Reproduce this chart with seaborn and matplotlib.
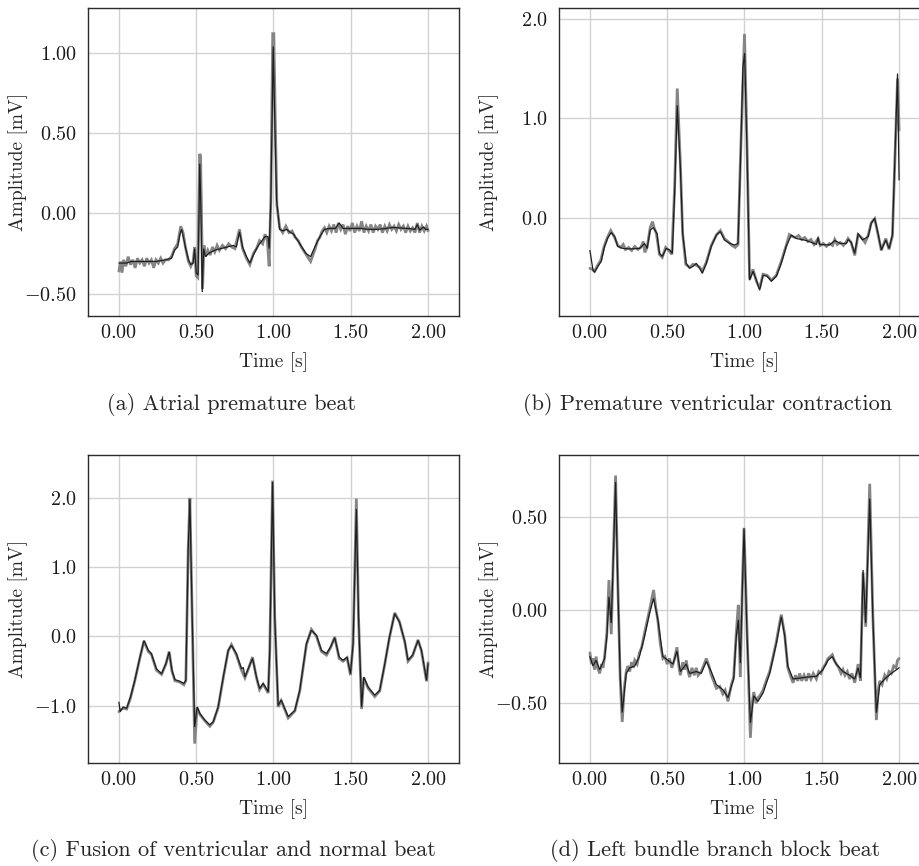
import matplotlib
matplotlib.use("Agg")
import matplotlib.pyplot as plt
from matplotlib.ticker import FixedLocator, FuncFormatter
import seaborn as sns
import pandas as pd

# ---------------------------------------------------------------- data
# (a) Atrial premature beat
a_t_clean = [0.00, 0.02, 0.05, 0.08, 0.12, 0.18, 0.24, 0.30, 0.34, 0.36, 0.38, 0.395, 0.405, 0.415,
             0.43, 0.45, 0.465, 0.48, 0.49, 0.50, 0.512, 0.523, 0.530, 0.539, 0.548, 0.56, 0.58, 0.62,
             0.66, 0.70, 0.74, 0.76, 0.78, 0.80, 0.825, 0.847, 0.87, 0.89, 0.91, 0.945, 0.965, 0.972,
             0.983, 0.998, 1.01, 1.02, 1.04, 1.06, 1.085, 1.11, 1.13, 1.17, 1.21, 1.24, 1.267, 1.30,
             1.33, 1.36, 1.40, 1.425, 1.45, 1.50, 1.56, 1.62, 1.67, 1.72, 1.77, 1.83, 1.88, 1.915,
             1.93, 1.946, 1.97, 1.985, 2.00]
a_v_clean = [-0.31, -0.31, -0.31, -0.30, -0.30, -0.30, -0.30, -0.29, -0.28, -0.23, -0.21, -0.13, -0.10, -0.14,
             -0.21, -0.29, -0.32, -0.31, -0.22, -0.37, -0.385, 0.31, 0.05, -0.49, -0.22, -0.27, -0.25, -0.23,
             -0.22, -0.21, -0.20, -0.21, -0.115, -0.21, -0.27, -0.31, -0.26, -0.22, -0.19, -0.145, -0.145, -0.22,
             0.08, 1.04, 0.50, 0.08, -0.10, -0.11, -0.10, -0.12, -0.13, -0.19, -0.25, -0.27, -0.21, -0.145,
             -0.10, -0.094, -0.094, -0.06, -0.094, -0.094, -0.094, -0.10, -0.10, -0.095, -0.088, -0.092, -0.095, -0.10,
             -0.07, -0.105, -0.085, -0.10, -0.10]
a_t_noisy = [0.00, 0.01, 0.02, 0.03, 0.045, 0.06, 0.075, 0.09, 0.105, 0.12, 0.135, 0.15, 0.165, 0.18, 0.195,
             0.21, 0.225, 0.24, 0.255, 0.27, 0.285, 0.30, 0.32, 0.34, 0.36, 0.38, 0.40, 0.415, 0.43, 0.45,
             0.465, 0.48, 0.49, 0.50, 0.51, 0.522, 0.528, 0.536, 0.541, 0.55, 0.56, 0.575, 0.59, 0.605, 0.62,
             0.635, 0.65, 0.67, 0.69, 0.71, 0.73, 0.75, 0.78, 0.80, 0.825, 0.847, 0.87, 0.89, 0.91, 0.93,
             0.945, 0.96, 0.972, 0.983, 0.995, 1.002, 1.012, 1.022, 1.04, 1.06, 1.08, 1.10, 1.12, 1.14, 1.16,
             1.18, 1.20, 1.22, 1.24, 1.255, 1.27, 1.285, 1.30, 1.315, 1.33, 1.345, 1.36, 1.375, 1.39, 1.405,
             1.42, 1.435, 1.45, 1.465, 1.48, 1.495, 1.51, 1.525, 1.54, 1.555, 1.57, 1.585, 1.60, 1.615, 1.63,
             1.645, 1.66, 1.675, 1.69, 1.705, 1.72, 1.735, 1.75, 1.765, 1.78, 1.795, 1.81, 1.825, 1.84, 1.855,
             1.87, 1.885, 1.90, 1.915, 1.93, 1.945, 1.96, 1.975, 1.99, 2.00]
a_v_noisy = [-0.36, -0.30, -0.37, -0.29, -0.33, -0.27, -0.32, -0.29, -0.34, -0.28, -0.31, -0.29, -0.33, -0.28, -0.31,
             -0.29, -0.34, -0.29, -0.31, -0.28, -0.31, -0.29, -0.29, -0.27, -0.22, -0.19, -0.08, -0.12, -0.21, -0.30,
             -0.33, -0.30, -0.21, -0.39, -0.40, 0.37, 0.36, -0.10, -0.47, -0.20, -0.27, -0.23, -0.26, -0.21, -0.24,
             -0.20, -0.23, -0.20, -0.22, -0.19, -0.21, -0.22, -0.10, -0.22, -0.28, -0.32, -0.25, -0.22, -0.17, -0.19,
             -0.13, -0.17, -0.33, 0.10, 1.12, 1.12, 0.55, 0.05, -0.09, -0.12, -0.08, -0.12, -0.11, -0.15, -0.17,
             -0.21, -0.24, -0.27, -0.30, -0.26, -0.22, -0.17, -0.15, -0.11, -0.09, -0.12, -0.08, -0.11, -0.07, -0.12,
             -0.06, -0.10, -0.07, -0.13, -0.08, -0.11, -0.06, -0.12, -0.08, -0.11, -0.05, -0.12, -0.08, -0.11, -0.07,
             -0.12, -0.08, -0.10, -0.07, -0.12, -0.08, -0.11, -0.07, -0.10, -0.08, -0.11, -0.07, -0.10, -0.08, -0.12,
             -0.08, -0.11, -0.09, -0.12, -0.06, -0.12, -0.08, -0.11, -0.08, -0.11]

# (b) Premature ventricular contraction
b_t_clean = [0.00, 0.02, 0.03, 0.052, 0.073, 0.095, 0.117, 0.138, 0.16, 0.18, 0.214, 0.257, 0.32, 0.354,
             0.37, 0.39, 0.41, 0.434, 0.45, 0.468, 0.494, 0.516, 0.533, 0.548, 0.565, 0.585, 0.60, 0.623,
             0.645, 0.667, 0.688, 0.71, 0.727, 0.753, 0.785, 0.818, 0.844, 0.87, 0.904, 0.936, 0.958, 0.973,
             0.99, 1.001, 1.016, 1.033, 1.055, 1.077, 1.098, 1.12, 1.146, 1.174, 1.206, 1.238, 1.27, 1.303,
             1.335, 1.40, 1.466, 1.476, 1.486, 1.55, 1.584, 1.62, 1.66, 1.67, 1.69, 1.713, 1.735, 1.763,
             1.80, 1.82, 1.842, 1.864, 1.885, 1.914, 1.935, 1.957, 1.99, 2.00]
b_v_clean = [-0.33, -0.53, -0.55, -0.49, -0.44, -0.29, -0.20, -0.15, -0.19, -0.29, -0.31, -0.315, -0.31, -0.26,
             -0.31, -0.125, -0.10, -0.16, -0.36, -0.39, -0.31, -0.325, -0.36, 0.245, 1.13, 0.51, -0.16, -0.46,
             -0.51, -0.49, -0.46, -0.51, -0.56, -0.46, -0.29, -0.175, -0.14, -0.225, -0.26, -0.275, -0.26, 0.51,
             1.52, 1.655, 0.68, -0.63, -0.54, -0.63, -0.73, -0.58, -0.59, -0.64, -0.59, -0.46, -0.29, -0.175,
             -0.21, -0.23, -0.27, -0.20, -0.27, -0.275, -0.23, -0.26, -0.26, -0.22, -0.25, -0.36, -0.16, -0.225,
             -0.19, -0.057, -0.007, -0.16, -0.325, -0.225, -0.31, -0.175, 1.45, 0.38]
b_t_noisy = [0.00, 0.015, 0.03, 0.05, 0.07, 0.09, 0.11, 0.135, 0.16, 0.18, 0.20, 0.215, 0.23, 0.25, 0.27,
             0.29, 0.31, 0.33, 0.345, 0.355, 0.37, 0.39, 0.405, 0.415, 0.43, 0.45, 0.468, 0.49, 0.51, 0.53,
             0.548, 0.565, 0.585, 0.60, 0.62, 0.645, 0.667, 0.69, 0.71, 0.727, 0.753, 0.785, 0.82, 0.844,
             0.87, 0.90, 0.92, 0.94, 0.958, 0.973, 1.00, 1.016, 1.033, 1.055, 1.077, 1.098, 1.12, 1.146,
             1.174, 1.206, 1.238, 1.27, 1.29, 1.31, 1.33, 1.35, 1.37, 1.39, 1.41, 1.43, 1.45, 1.476, 1.49,
             1.51, 1.53, 1.55, 1.57, 1.584, 1.60, 1.62, 1.64, 1.66, 1.67, 1.69, 1.713, 1.735, 1.763, 1.78,
             1.80, 1.82, 1.842, 1.864, 1.885, 1.914, 1.935, 1.957, 1.99, 2.00]
b_v_noisy = [-0.51, -0.52, -0.54, -0.48, -0.43, -0.30, -0.21, -0.13, -0.20, -0.28, -0.30, -0.27, -0.32, -0.30, -0.33,
             -0.29, -0.32, -0.30, -0.24, -0.35, -0.30, -0.10, -0.04, -0.10, -0.16, -0.37, -0.40, -0.30, -0.33, -0.37,
             0.30, 1.30, 0.55, -0.16, -0.47, -0.50, -0.47, -0.48, -0.50, -0.54, -0.45, -0.28, -0.17, -0.13,
             -0.21, -0.25, -0.28, -0.30, -0.27, 0.55, 1.85, 0.75, -0.62, -0.52, -0.64, -0.71, -0.57, -0.58,
             -0.63, -0.58, -0.44, -0.28, -0.17, -0.19, -0.20, -0.18, -0.22, -0.20, -0.24, -0.22, -0.27, -0.21, -0.28,
             -0.26, -0.29, -0.26, -0.28, -0.22, -0.27, -0.25, -0.28, -0.24, -0.21, -0.25, -0.38, -0.17, -0.21, -0.25,
             -0.18, -0.05, -0.01, -0.17, -0.33, -0.21, -0.32, -0.18, 1.40, 0.88]

# (c) Fusion of ventricular and normal beat
c_t_clean = [0.00, 0.008, 0.028, 0.05, 0.075, 0.103, 0.136, 0.162, 0.19, 0.21, 0.243, 0.276, 0.304, 0.325,
             0.343, 0.362, 0.394, 0.42, 0.433, 0.448, 0.459, 0.474, 0.49, 0.506, 0.524, 0.556, 0.588, 0.61,
             0.642, 0.675, 0.707, 0.728, 0.76, 0.793, 0.805, 0.815, 0.836, 0.864, 0.89, 0.91, 0.933, 0.966,
             0.976, 0.994, 1.008, 1.03, 1.05, 1.095, 1.138, 1.17, 1.213, 1.245, 1.278, 1.31, 1.343, 1.37,
             1.396, 1.425, 1.45, 1.476, 1.498, 1.515, 1.536, 1.55, 1.57, 1.584, 1.612, 1.655, 1.687, 1.72,
             1.75, 1.784, 1.815, 1.85, 1.87, 1.90, 1.935, 1.957, 1.972, 1.99, 2.00]
c_v_clean = [-0.95, -1.09, -1.02, -1.04, -0.875, -0.635, -0.30, -0.06, -0.20, -0.25, -0.47, -0.54, -0.395, -0.226,
             -0.49, -0.625, -0.65, -0.68, -0.635, 1.24, 1.985, 0.28, -1.31, -1.02, -1.115, -1.21, -1.28, -1.235,
             -1.02, -0.587, -0.20, -0.13, -0.25, -0.47, -0.45, -0.587, -0.47, -0.32, -0.587, -0.755, -0.68, -0.80,
             -0.20, 2.23, 0.28, -1.00, -0.92, -1.16, -1.07, -0.78, -0.105, 0.087, 0.015, -0.20, -0.25, -0.15,
             -0.02, -0.30, -0.346, -0.30, -0.54, -0.105, 1.84, 0.28, -1.02, -0.587, -0.73, -0.85, -0.78, -0.395,
             -0.01, 0.327, 0.207, -0.08, -0.346, -0.27, -0.058, -0.20, -0.395, -0.635, -0.395]
c_t_noisy = [0.00, 0.01, 0.028, 0.05, 0.075, 0.103, 0.136, 0.162, 0.19, 0.21, 0.243, 0.276, 0.304, 0.325,
             0.343, 0.362, 0.394, 0.42, 0.433, 0.448, 0.459, 0.474, 0.49, 0.506, 0.524, 0.556, 0.588, 0.61,
             0.642, 0.675, 0.707, 0.728, 0.76, 0.793, 0.815, 0.836, 0.864, 0.89, 0.91, 0.933, 0.966, 0.976,
             0.994, 1.008, 1.03, 1.05, 1.095, 1.138, 1.17, 1.213, 1.245, 1.278, 1.31, 1.343, 1.37, 1.396,
             1.425, 1.45, 1.476, 1.498, 1.515, 1.536, 1.55, 1.57, 1.584, 1.612, 1.655, 1.687, 1.72, 1.75,
             1.784, 1.815, 1.85, 1.87, 1.90, 1.935, 1.957, 1.972, 1.99, 2.00]
c_v_noisy = [-1.09, -1.06, -1.04, -1.05, -0.89, -0.64, -0.31, -0.07, -0.22, -0.26, -0.49, -0.55, -0.40, -0.22,
             -0.50, -0.64, -0.66, -0.70, -0.64, 1.24, 2.00, 0.28, -1.55, -1.03, -1.13, -1.22, -1.30, -1.24,
             -1.03, -0.60, -0.21, -0.12, -0.27, -0.49, -0.60, -0.48, -0.30, -0.60, -0.77, -0.69, -0.82, -0.20,
             2.25, 0.28, -1.02, -0.93, -1.18, -1.08, -0.79, -0.12, 0.10, 0.00, -0.22, -0.27, -0.16, -0.01,
             -0.32, -0.36, -0.31, -0.56, -0.10, 1.99, 0.28, -1.05, -0.60, -0.75, -0.87, -0.79, -0.40, -0.02,
             0.34, 0.21, -0.09, -0.36, -0.28, -0.05, -0.21, -0.41, -0.65, -0.38]

# (d) Left bundle branch block beat
d_t_clean = [0.00, 0.02, 0.04, 0.063, 0.095, 0.11, 0.123, 0.138, 0.153, 0.166, 0.18, 0.196, 0.209, 0.235,
             0.257, 0.29, 0.32, 0.354, 0.386, 0.412, 0.44, 0.472, 0.505, 0.537, 0.563, 0.585, 0.623, 0.645,
             0.688, 0.72, 0.753, 0.785, 0.818, 0.86, 0.893, 0.915, 0.93, 0.947, 0.96, 0.973, 0.997, 1.016,
             1.038, 1.06, 1.087, 1.12, 1.163, 1.206, 1.238, 1.26, 1.28, 1.314, 1.357, 1.40, 1.465, 1.508,
             1.54, 1.568, 1.594, 1.637, 1.68, 1.713, 1.735, 1.75, 1.767, 1.784, 1.81, 1.83, 1.853, 1.875,
             1.907, 1.95, 2.00]
d_v_clean = [-0.25, -0.30, -0.27, -0.32, -0.26, -0.14, 0.07, -0.07, 0.32, 0.685, 0.14, -0.356, -0.55, -0.34,
             -0.31, -0.30, -0.25, -0.14, -0.018, 0.062, -0.053, -0.25, -0.27, -0.29, -0.22, -0.33, -0.29, -0.34,
             -0.33, -0.34, -0.276, -0.33, -0.40, -0.427, -0.47, -0.41, -0.37, -0.14, -0.053, -0.285, 0.436, -0.125,
             -0.605, -0.46, -0.49, -0.445, -0.34, -0.18, -0.036, -0.14, -0.30, -0.37, -0.365, -0.36, -0.356, -0.32,
             -0.27, -0.25, -0.29, -0.33, -0.35, -0.37, -0.31, -0.365, 0.214, -0.07, 0.596, -0.036, -0.55, -0.40,
             -0.37, -0.34, -0.31]
d_t_noisy = [0.00, 0.01, 0.02, 0.03, 0.04, 0.05, 0.063, 0.075, 0.085, 0.095, 0.11, 0.123, 0.138, 0.153, 0.166,
             0.18, 0.196, 0.209, 0.222, 0.235, 0.245, 0.257, 0.27, 0.28, 0.29, 0.305, 0.32, 0.335, 0.354, 0.37,
             0.386, 0.412, 0.425, 0.44, 0.455, 0.472, 0.485, 0.50, 0.515, 0.53, 0.545, 0.563, 0.575, 0.585,
             0.60, 0.612, 0.623, 0.635, 0.645, 0.66, 0.675, 0.688, 0.70, 0.72, 0.735, 0.753, 0.77, 0.785,
             0.80, 0.818, 0.84, 0.86, 0.875, 0.893, 0.905, 0.915, 0.93, 0.947, 0.96, 0.973, 0.985, 0.997,
             1.016, 1.038, 1.05, 1.06, 1.075, 1.087, 1.10, 1.12, 1.14, 1.163, 1.185, 1.206, 1.225, 1.238,
             1.26, 1.28, 1.30, 1.314, 1.33, 1.345, 1.357, 1.37, 1.385, 1.40, 1.415, 1.43, 1.445, 1.465, 1.48,
             1.495, 1.508, 1.525, 1.54, 1.555, 1.568, 1.58, 1.594, 1.61, 1.625, 1.637, 1.65, 1.665, 1.68,
             1.695, 1.713, 1.725, 1.735, 1.75, 1.767, 1.784, 1.81, 1.83, 1.853, 1.865, 1.875, 1.89, 1.907,
             1.92, 1.935, 1.95, 1.965, 1.98, 1.99, 2.00]
d_v_noisy = [-0.23, -0.29, -0.26, -0.32, -0.25, -0.31, -0.34, -0.29, -0.31, -0.25, -0.12, 0.16, -0.13, 0.34, 0.72,
             0.16, -0.37, -0.60, -0.42, -0.33, -0.30, -0.33, -0.28, -0.31, -0.27, -0.29, -0.23, -0.20, -0.12, -0.06,
             0.00, 0.107, 0.02, -0.06, -0.18, -0.26, -0.25, -0.29, -0.26, -0.31, -0.27, -0.20, -0.30, -0.35,
             -0.28, -0.32, -0.27, -0.33, -0.36, -0.31, -0.35, -0.31, -0.35, -0.33, -0.30, -0.26, -0.30, -0.35,
             -0.38, -0.42, -0.41, -0.45, -0.43, -0.49, -0.44, -0.40, -0.36, -0.12, 0.027, -0.36, 0.10, 0.44,
             -0.10, -0.685, -0.50, -0.44, -0.50, -0.47, -0.46, -0.43, -0.38, -0.33, -0.25, -0.17, -0.08, -0.025,
             -0.13, -0.31, -0.36, -0.39, -0.35, -0.38, -0.34, -0.38, -0.35, -0.38, -0.34, -0.37, -0.34, -0.37, -0.33,
             -0.34, -0.31, -0.29, -0.26, -0.25, -0.24, -0.27, -0.29, -0.31, -0.34, -0.32, -0.35, -0.33, -0.37,
             -0.34, -0.39, -0.34, -0.29, -0.38, 0.20, -0.09, 0.676, -0.02, -0.59, -0.43, -0.38, -0.40, -0.35,
             -0.37, -0.33, -0.34, -0.30, -0.31, -0.27, -0.26]

x_ticks = [0.0, 0.5, 1.0, 1.5, 2.0]
captions = ["(a) Atrial premature beat",
            "(b) Premature ventricular contraction",
            "(c) Fusion of ventricular and normal beat",
            "(d) Left bundle branch block beat"]

panels = [
    dict(tc=a_t_clean, vc=a_v_clean, tn=a_t_noisy, vn=a_v_noisy,
         ylim=(-0.64, 1.28), yticks=[-0.5, 0.0, 0.5, 1.0], ydec=2),
    dict(tc=b_t_clean, vc=b_v_clean, tn=b_t_noisy, vn=b_v_noisy,
         ylim=(-0.99, 2.11), yticks=[0.0, 1.0, 2.0], ydec=1),
    dict(tc=c_t_clean, vc=c_v_clean, tn=c_t_noisy, vn=c_v_noisy,
         ylim=(-1.83, 2.62), yticks=[-1.0, 0.0, 1.0, 2.0], ydec=1),
    dict(tc=d_t_clean, vc=d_v_clean, tn=d_t_noisy, vn=d_v_noisy,
         ylim=(-0.82, 0.83), yticks=[-0.5, 0.0, 0.5], ydec=2),
]

# ---------------------------------------------------------------- style
sns.set_style("whitegrid", {"grid.color": "#d2d2d2", "axes.edgecolor": "#2b2b2b"})
plt.rcParams["font.family"] = "serif"
plt.rcParams["font.serif"] = ["cmr10", "DejaVu Serif"]
plt.rcParams["mathtext.fontset"] = "cm"
plt.rcParams["axes.formatter.use_mathtext"] = True
plt.rcParams["axes.unicode_minus"] = True

FS_TICK = 14.5
FS_LABEL = 14
FS_CAP = 16

fig = plt.figure(figsize=(9.2, 8.66), dpi=100)

W, H = 920.0, 866.0
ax_w, ax_h = 371.0, 308.0
origins = [(88, 8), (559, 8), (88, 455), (559, 455)]
caption_pos = [(232, 405), (708, 405), (233, 850), (715, 850)]


def fmt_factory(dec):
    def f(v, pos):
        return r"$%.*f$" % (dec, v)
    return f


for i, (p, (x0, y0)) in enumerate(zip(panels, origins)):
    ax = fig.add_axes([x0 / W, 1 - (y0 + ax_h) / H, ax_w / W, ax_h / H])
    noisy = pd.DataFrame({"t": p["tn"], "v": p["vn"]})
    clean = pd.DataFrame({"t": p["tc"], "v": p["vc"]})
    sns.lineplot(data=noisy, x="t", y="v", ax=ax, color="#858585", linewidth=2.0,
                 estimator=None, sort=False, solid_joinstyle="miter")
    sns.lineplot(data=clean, x="t", y="v", ax=ax, color="#1e1e1e", linewidth=0.9,
                 estimator=None, sort=False, solid_joinstyle="miter")
    ax.set_xlim(-0.2, 2.2)
    ax.set_ylim(*p["ylim"])
    ax.xaxis.set_major_locator(FixedLocator(x_ticks))
    ax.yaxis.set_major_locator(FixedLocator(p["yticks"]))
    ax.xaxis.set_major_formatter(FuncFormatter(fmt_factory(2)))
    ax.yaxis.set_major_formatter(FuncFormatter(fmt_factory(p["ydec"])))
    ax.tick_params(axis="both", length=0, labelsize=FS_TICK, colors="#1a1a1a")
    ax.tick_params(axis="x", pad=6)
    ax.tick_params(axis="y", pad=8)
    ax.grid(True, color="#d2d2d2", linewidth=1.0)
    for s in ax.spines.values():
        s.set_linewidth(1.0)
        s.set_color("#2b2b2b")
    ax.set_xlabel("Time [s]", fontsize=FS_LABEL)
    ax.set_ylabel("Amplitude [mV]", fontsize=FS_LABEL)
    ax.xaxis.label.set_va("center")
    ax.yaxis.label.set_va("center")
    # label centres sit 46 px under the frame and about 70 px left of it
    ax.xaxis.set_label_coords(0.5, -46.0 / ax_h)
    ax.yaxis.set_label_coords(-70.0 / ax_w, 0.5)

    cx, cy = caption_pos[i]
    fig.text(cx / W, 1 - cy / H, captions[i], ha="center", va="center", fontsize=FS_CAP)

fig.savefig("out.png", dpi=100)
